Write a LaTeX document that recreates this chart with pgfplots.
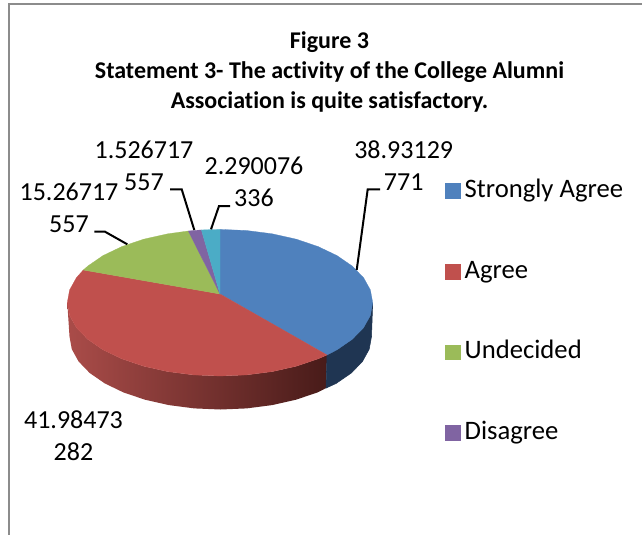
\documentclass[border=0pt]{standalone}
\usepackage{pgfplots}
\usepackage{fontspec}
\setmainfont{Carlito}[Ligatures=NoCommon]
\pgfplotsset{compat=1.18}
\definecolor{cblue}{HTML}{4F81BD}
\definecolor{cred}{HTML}{C0504D}
\definecolor{cgreen}{HTML}{9BBB59}
\definecolor{cpurple}{HTML}{8064A2}
\definecolor{cteal}{HTML}{4BACC6}
\definecolor{cbluedark}{HTML}{1F3552}
\definecolor{credlight}{HTML}{AA4C49}
\definecolor{creddark}{HTML}{481B19}
\definecolor{frame}{HTML}{8C8C8C}
\begin{document}
\begin{tikzpicture}
\begin{axis}[
  scale only axis,
  width=481.5pt, height=401.25pt,
  xmin=0, xmax=642, ymin=0, ymax=535,
  y dir=reverse,
  hide axis,
  legend cell align=left,
  legend style={draw=none, fill=none, at={(axis cs:444.5,180)}, anchor=north west,
    font=\fontsize{20}{24}\selectfont, row sep=42.5pt, inner sep=0pt,
    nodes={text height=12pt, text depth=4pt, inner sep=1pt},
    /tikz/every odd column/.append style={column sep=2.5pt}},
  legend image code/.code={\path[#1] (0pt,-4.5pt) rectangle (11.25pt,6.7pt);},
]
% keeps the whole picture area in the page
\addplot[draw=none, forget plot] coordinates {(0,0) (642,535)};
% frame of the chart area
\addplot[frame, line width=1.5pt, forget plot] coordinates {(8.5,535) (8.5,4.5) (642,4.5)};

% side of the disc
\addplot[draw=none, left color=credlight, right color=creddark, forget plot] coordinates {
  (67.3,302.7) (69.6,315.4) (76.5,327.8) (87.8,339.35) (103,349.8) (121.8,358.8) (143.6,366.2)
  (167.8,371.6) (193.5,374.9) (220,376) (246.5,374.9) (272.2,371.6) (296.4,366.2) (318.2,358.8) (327,355)
  (326,388.1) (317.6,392.4) (296,399.7) (272.1,405.1) (246.7,408.4) (220.5,409.5) (194.3,408.4)
  (168.9,405.1) (145,399.7) (123.4,392.4) (104.8,383.4) (89.7,373) (78.6,361.5) (71.8,349.2) (69.5,336.5)
} -- cycle;
\addplot[draw=cbluedark, line width=0.4pt, fill=cbluedark, forget plot] coordinates {
  (327,355) (337,349.8) (352.2,339.35) (363.5,327.8) (370.4,315.4) (372.7,302.7)
  (371.5,336.5) (369.2,349.2) (362.4,361.5) (351.3,373) (336.2,383.4) (326,388.1)
} -- cycle;

% top of the disc, one outline per answer
\addplot[fill=cblue, draw=cblue, line width=0.2pt] coordinates {
  (220,294) (220,229.4) (246.5,230.5) (272.2,233.8) (296.4,239.2) (318.2,246.6) (337,255.6) (352.2,266.05)
  (363.5,277.6) (370.4,290) (372.7,302.7) (370.4,315.4) (363.5,327.8) (352.2,339.35) (337,349.8) (327,355)
} -- cycle;
\addlegendentry{Strongly Agree}
\addplot[fill=cred, draw=cred, line width=0.2pt] coordinates {
  (220,294) (327,355) (318.2,358.8) (296.4,366.2) (272.2,371.6) (246.5,374.9) (220,376) (193.5,374.9)
  (167.8,371.6) (143.6,366.2) (121.8,358.8) (103,349.8) (87.8,339.35) (76.5,327.8) (69.6,315.4) (67.3,302.7)
  (69.6,290) (76.5,277.6) (83.3,270)
} -- cycle;
\addlegendentry{Agree}
\addplot[fill=cgreen, draw=cgreen, line width=0.2pt] coordinates {
  (220,294) (83.3,270) (87.8,266.05) (103,255.6) (121.8,246.6) (143.6,239.2) (167.8,233.8) (188.3,231)
} -- cycle;
\addlegendentry{Undecided}
\addplot[fill=cpurple, draw=cpurple, line width=0.2pt] coordinates {
  (220,294) (188.3,231) (193.5,230.5) (201.4,229.95)
} -- cycle;
\addlegendentry{Disagree}
\addplot[fill=cteal, draw=cteal, line width=0.2pt, forget plot] coordinates {
  (220,294) (201.4,229.95) (220,229.4)
} -- cycle;

% leader lines
\addplot[black, line width=1.5pt, forget plot] coordinates {(356.7,270) (367.7,189.3) (380,189.3)};
\addplot[black, line width=1.5pt, forget plot] coordinates {(211,229.3) (219,206) (230,206)};
\addplot[black, line width=1.5pt, forget plot] coordinates {(194.3,230) (181.7,189.3) (170,189.3)};
\addplot[black, line width=1.5pt, forget plot] coordinates {(127.3,244.3) (105,231.7) (94.3,231.7)};

% data labels and title
\begin{scope}[every node/.style={align=center, inner sep=0pt, font=\fontsize{19.5}{24}\selectfont}]
\node at (axis cs:403.7,166) {38.93129\\771};
\node at (axis cs:144,166) {1.526717\\557};
\node at (axis cs:254,182) {2.290076\\336};
\node at (axis cs:69,208) {15.26717\\557};
\node at (axis cs:73.5,436) {41.98473\\282};
\node[font=\fontsize{18}{22.5}\selectfont\bfseries] at (axis cs:329.5,71.5) {Figure 3\\Statement 3- The activity of the College Alumni\\Association is quite satisfactory.};
\end{scope}
\end{axis}
\end{tikzpicture}
\end{document}
